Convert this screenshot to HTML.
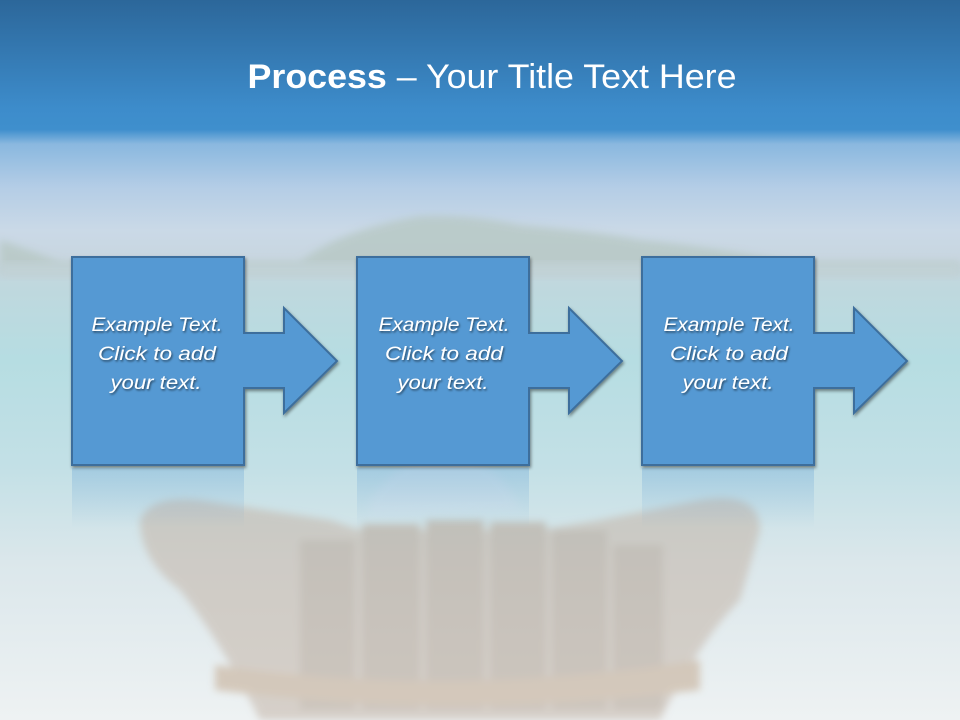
<!DOCTYPE html>
<html><head><meta charset="utf-8"><style>
html,body{margin:0;padding:0;width:960px;height:720px;overflow:hidden}
svg{display:block}
text{font-family:"Liberation Sans",sans-serif}
</style></head><body>
<svg width="960" height="720" viewBox="0 0 960 720" xmlns="http://www.w3.org/2000/svg">
<defs>
<linearGradient id="hdr" x1="0" y1="0" x2="0" y2="1">
<stop offset="0" stop-color="#2c679a"/><stop offset="0.85" stop-color="#3d8ccb"/><stop offset="1" stop-color="#3f8fcd"/>
</linearGradient>
<linearGradient id="bg" x1="0" y1="0" x2="0" y2="1">
<stop offset="0" stop-color="#3f8fcd"/>
<stop offset="0.18" stop-color="#3f8fcd"/>
<stop offset="0.2" stop-color="#8ab8df"/>
<stop offset="0.26" stop-color="#b4cde6"/>
<stop offset="0.32" stop-color="#cad9e7"/>
<stop offset="0.36" stop-color="#c8d6e0"/>
<stop offset="0.4" stop-color="#bfd8de"/>
<stop offset="0.5" stop-color="#b6dde2"/>
<stop offset="0.65" stop-color="#c3e0e6"/>
<stop offset="0.78" stop-color="#dbe7eb"/>
<stop offset="1" stop-color="#eef2f3"/>
</linearGradient>
<filter id="sh" x="-10%" y="-10%" width="130%" height="130%"><feDropShadow dx="1" dy="2" stdDeviation="1.5" flood-color="#000" flood-opacity="0.45"/></filter>
<filter id="ts"><feDropShadow dx="1" dy="1.5" stdDeviation="1" flood-color="#000" flood-opacity="0.55"/></filter>
<filter id="bl"><feGaussianBlur stdDeviation="4"/></filter>
<linearGradient id="refl" x1="0" y1="0" x2="0" y2="1"><stop offset="0" stop-color="#5a9bd3" stop-opacity="0.3"/><stop offset="1" stop-color="#5a9bd3" stop-opacity="0"/></linearGradient>
</defs>
<rect width="960" height="720" fill="url(#bg)"/>
<!-- island -->
<path d="M0 240 Q30 250 60 262 L300 262 Q340 230 420 216 Q470 214 520 225 Q600 232 640 240 Q720 248 790 262 L960 262 L960 275 L0 275 Z" fill="#b7c8c4" opacity="0.8" filter="url(#bl)"/>
<rect x="0" y="262" width="960" height="16" fill="#c4d4da" opacity="0.7" filter="url(#bl)"/>
<!-- chair -->
<g filter="url(#bl)" opacity="0.55">
<path d="M140 520 Q150 495 200 500 L330 520 L360 530 L540 530 L600 520 L700 500 Q760 490 760 530 L740 600 Q700 640 660 720 L260 720 Q220 640 180 590 Q140 560 140 520 Z" fill="#c4b5a8"/>
<g fill="#b3a293">
<rect x="300" y="540" width="55" height="170"/><rect x="362" y="524" width="58" height="186"/>
<rect x="426" y="520" width="58" height="190"/><rect x="490" y="522" width="56" height="188"/>
<rect x="552" y="530" width="55" height="180"/><rect x="613" y="545" width="50" height="165"/>
</g>
<path d="M215 665 Q450 700 700 660 L700 690 Q450 720 215 690 Z" fill="#c2a98f"/>
</g>
<path d="M370 500 Q400 455 450 455 Q500 460 520 510 L370 515 Z" fill="#d6e3ec" opacity="0.5" filter="url(#bl)"/>
<!-- header -->
<rect width="960" height="128" fill="url(#hdr)"/>
<text x="492" y="88" text-anchor="middle" fill="#fff" font-size="34" textLength="489" lengthAdjust="spacingAndGlyphs"><tspan font-weight="bold">Process</tspan> – Your Title Text Here</text>
<!-- shapes -->
<g id="s">
<path d="M72 257 H244 V333 H284 V308 L337 361 L284 413 V388 H244 V465 H72 Z" fill="#5499d3" stroke="#3c6e9c" stroke-width="2" stroke-linejoin="miter" filter="url(#sh)"/>
<rect x="72" y="468" width="172" height="60" fill="url(#refl)"/>
</g>
<use href="#s" x="285"/>
<use href="#s" x="570"/>
<g fill="#fff" font-size="19" font-style="italic" text-anchor="middle" filter="url(#ts)">
<text x="157" y="331" textLength="131" lengthAdjust="spacingAndGlyphs">Example Text.</text>
<text x="157" y="360" textLength="118" lengthAdjust="spacingAndGlyphs">Click  to add</text>
<text x="156" y="389" textLength="91" lengthAdjust="spacingAndGlyphs">your text.</text>
<text x="444" y="331" textLength="131" lengthAdjust="spacingAndGlyphs">Example Text.</text>
<text x="444" y="360" textLength="118" lengthAdjust="spacingAndGlyphs">Click  to add</text>
<text x="443" y="389" textLength="91" lengthAdjust="spacingAndGlyphs">your text.</text>
<text x="729" y="331" textLength="131" lengthAdjust="spacingAndGlyphs">Example Text.</text>
<text x="729" y="360" textLength="118" lengthAdjust="spacingAndGlyphs">Click  to add</text>
<text x="728" y="389" textLength="91" lengthAdjust="spacingAndGlyphs">your text.</text>
</g>
</svg>
</body></html>
